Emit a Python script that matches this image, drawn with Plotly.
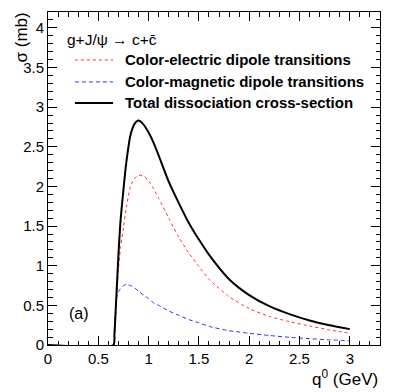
import plotly.graph_objects as go

# q0 grid (GeV) and cross-sections (mb)
q0 = [0, 0.65, 0.66, 0.68, 0.70, 0.72, 0.75, 0.78, 0.82, 0.86, 0.90, 0.95, 1.0, 1.05,
      1.1, 1.2, 1.3, 1.4, 1.5, 1.6, 1.8, 2.0, 2.2, 2.4, 2.6, 2.8, 3.0]
sigma_electric = [0, 0, 0.05, 0.55, 0.95, 1.22, 1.48, 1.75, 2.00, 2.10, 2.14, 2.13, 2.07, 1.97,
                  1.85, 1.60, 1.36, 1.16, 0.99, 0.83, 0.61, 0.46, 0.36, 0.295, 0.24, 0.19, 0.148]
sigma_magnetic = [0, 0, 0.2, 0.58, 0.67, 0.71, 0.75, 0.765, 0.75, 0.72, 0.68, 0.63, 0.585, 0.53,
                  0.50, 0.43, 0.375, 0.32, 0.28, 0.235, 0.18, 0.148, 0.12, 0.097, 0.08, 0.065, 0.055]
sigma_total = [0, 0, 0.13, 0.63, 1.13, 1.55, 1.96, 2.32, 2.65, 2.79, 2.83, 2.78, 2.68, 2.55,
               2.39, 2.06, 1.79, 1.54, 1.33, 1.14, 0.83, 0.63, 0.49, 0.39, 0.31, 0.25, 0.20]

names = ['Color-electric dipole transitions', 'Color-magnetic dipole transitions',
         'Total dissociation cross-section']
header = 'g+J/\u03c8 \u2192 c+c\u0304'

font = 'Liberation Sans, Arial, sans-serif'
styles = [dict(color='#ff3030', width=1, dash='dot'),
          dict(color='#3030ff', width=1, dash='4px,3px'),
          dict(color='black', width=2)]

fig = go.Figure()
for name, ys, st in zip(names, [sigma_electric, sigma_magnetic, sigma_total], styles):
    fig.add_trace(go.Scatter(x=q0, y=ys, mode='lines', name=name,
                             line=dict(shape='spline', smoothing=0.6, **st)))

axis_common = dict(showgrid=False, zeroline=False, showline=True, linecolor='black', linewidth=1,
                   mirror='allticks', ticks='inside', ticklen=9, tickcolor='black',
                   tickfont=dict(family=font, size=15, color='black'),
                   dtick=0.5, tick0=0, automargin=False,
                   minor=dict(ticks='inside', ticklen=4.5, dtick=0.1, tickcolor='black'))

fig.update_xaxes(range=[0, 3.3], **axis_common)
fig.update_yaxes(range=[0, 4.2], **axis_common)

# hand-placed legend, ROOT style (header line + three entries)
annotations = [
    dict(text=header, xref='paper', yref='paper', x=0.051, y=0.916,
         xanchor='left', yanchor='middle', showarrow=False, font=dict(size=15.5)),
    dict(text='\u03c3 (mb)', xref='paper', yref='paper', x=-0.08, y=1.006, xanchor='center',
         yanchor='top', textangle=-90, showarrow=False, font=dict(size=17)),
    dict(text='q<sup>0</sup> (GeV)', xref='paper', yref='paper', x=1.0, y=-0.06,
         xanchor='right', yanchor='top', showarrow=False, font=dict(size=17)),
    dict(text='(a)', xref='paper', yref='paper', x=0.057, y=0.096, xanchor='left',
         yanchor='middle', showarrow=False, font=dict(size=16)),
]
shapes = []
rows = [0.856, 0.790, 0.727]
for name, st, yr in zip(names, styles, rows):
    annotations.append(dict(text='<b>' + name + '</b>', xref='paper', yref='paper', x=0.226, y=yr,
                            xanchor='left', yanchor='middle', showarrow=False, font=dict(size=15)))
    shapes.append(dict(type='line', xref='paper', yref='paper', x0=0.081, x1=0.196, y0=yr, y1=yr,
                       line=st))

# the page body keeps an 8px margin, so the figure is made 8px smaller
fig.update_layout(
    width=399, height=384,
    margin=dict(l=40, r=27, t=4, b=47),
    plot_bgcolor='white', paper_bgcolor='white',
    font=dict(family=font, color='black'),
    showlegend=False,
    annotations=annotations,
    shapes=shapes,
)

fig.write_html('out.html')
